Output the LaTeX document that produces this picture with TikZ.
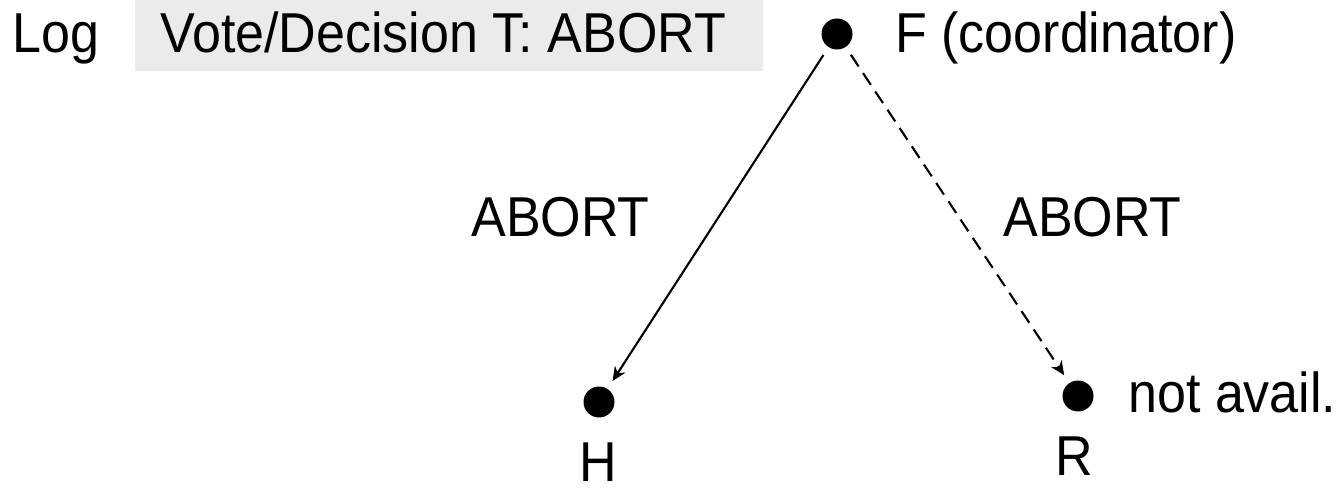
\documentclass[tikz,border=0pt]{standalone}
\usepackage{fontspec}
\setmainfont{Liberation Sans}[FakeStretch=0.925]
\usetikzlibrary{arrows.meta}
\definecolor{boxgray}{RGB}{235,235,235}
\begin{document}
\begin{tikzpicture}[x=0.02cm,y=-0.02cm,
  every node/.style={font=\fontsize{32}{38}\selectfont},
  lbl/.style={inner sep=0pt, anchor=base west},
  dot/.style={circle, fill=black, inner sep=0pt, minimum size=0.62cm, outer sep=0.19cm},
  msg/.style={line width=1.2pt, -{Stealth[length=0.28cm,width=0.25cm,inset=0.09cm]}},
  lost/.style={msg, dash pattern=on 0.28cm off 0.16cm}]
\useasboundingbox (0,0) rectangle (1344,502);
\node[fill=boxgray, inner sep=0pt, minimum width=12.56cm, minimum height=1.42cm] (logbox) at (449,35.5) {};
\node[lbl] (log) at (12,53) {Log};
\node[lbl] (vote) at (160,53) {Vote/Decision T: ABORT};
\node[dot] (F) at (837,34) {};
\node[dot] (H) at (599,402) {};
\node[dot] (R) at (1078,396) {};
\node[lbl] (Flbl) at (895,53) {F (coordinator)};
\node[lbl] (a1) at (471,237) {ABORT};
\node[lbl] (a2) at (1003,237) {ABORT};
\node[lbl] (na) at (1128,413) {not avail.};
\node[inner sep=0pt, anchor=base] (Hlbl) at (598,481) {H};
\node[inner sep=0pt, anchor=base] (Rlbl) at (1074,476) {R};
\draw[msg] (F) -- (H);
\draw[lost] (F) -- (R);
\end{tikzpicture}
\end{document}
